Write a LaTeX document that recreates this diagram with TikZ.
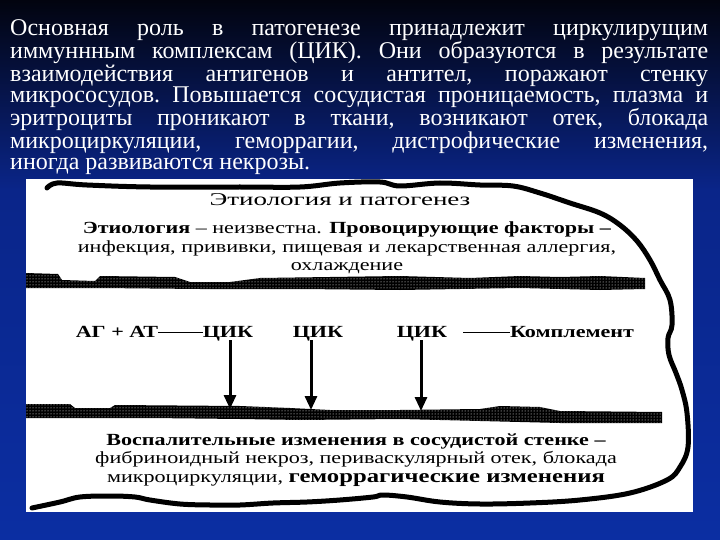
\documentclass[tikz,border=0pt]{standalone}
\usepackage{fontspec}
\setmainfont{Liberation Serif}
\newfontfamily\schemefont[FakeStretch=1.3]{Liberation Serif}
\newfontfamily\headfont[FakeStretch=1.5]{Liberation Serif}
\usetikzlibrary{arrows.meta,patterns}

\definecolor{slidetop}{HTML}{02040F}
\definecolor{slidemid}{HTML}{0A2589}
\definecolor{slidebot}{HTML}{0B2EA2}

\begin{document}
\begin{tikzpicture}[x=1pt,y=-1pt]

\tikzstyle{scheme} = [inner sep=0pt, font={\schemefont\fontsize{17}{18.5}\selectfont}]
\tikzstyle{schemebf} = [inner sep=0pt, font={\schemefont\bfseries\fontsize{17}{18.5}\selectfont}, text height=12pt, text depth=3pt, anchor=base]
\tikzstyle{wavy} = [line width=5pt, line cap=round, line join=round]
\tikzstyle{cikarrow} = [->, >={Triangle[width=12pt,length=14pt]}, line width=3pt]
\tikzstyle{band} = [fill=black, postaction={pattern=dots, pattern color=white}]

\useasboundingbox (0,0) rectangle (720,540);

% slide background
\shade[top color=slidetop, bottom color=slidemid] (0,0) rectangle (720,190);
\shade[top color=slidemid, bottom color=slidebot] (0,190) rectangle (720,540);

\node[anchor=north west, inner sep=0pt, text width=698pt, align=justify, text=white,
  font={\fontsize{24}{21.3}\selectfont\frenchspacing}] (intro) at (10,19)
  {Основная роль в патогенезе принадлежит циркулирущим\linebreak
   иммуннным комплексам (ЦИК). Они образуются в результате\linebreak
   взаимодействия антигенов и антител, поражают стенку\linebreak
   микрососудов. Повышается сосудистая проницаемость, плазма и\linebreak
   эритроциты проникают в ткани, возникают отек, блокада\linebreak
   микроциркуляции, геморрагии, дистрофические изменения,\linebreak
   иногда развиваются некрозы.};

% the scheme
\fill[white] (26,179) rectangle (693,512);

\draw[wavy] plot[smooth, tension=0.6] coordinates {(47,188) (57,183) (87,185) (150,187)
  (240,187) (300,187) (340,183) (380,182) (400,186) (440,183) (480,185) (513,186)
  (540,193) (570,203) (600,213) (620,225) (637,241) (650,260) (660,280) (670,300)
  (672,325) (668,338) (669,355) (676,373) (682,390) (687,413) (688,447) (680,467)
  (667,480) (630,493) (580,500) (530,503) (480,504) (440,502) (407,497) (383,495)
  (373,497) (340,500) (307,502) (273,503) (240,505) (210,505) (180,504) (150,500)
  (135,497) (110,496) (80,497) (60,502) (32,508)};

\path[band] (26,273) -- (58,274) -- (62,280) -- (95,281) -- (100,276) -- (175,277)
  -- (190,282) -- (230,282) -- (260,278) -- (330,277) -- (400,276) -- (470,278)
  -- (520,276) -- (560,277) -- (600,276) -- (645,278) -- (645,289) -- (600,290)
  -- (520,288) -- (400,290) -- (300,289) -- (200,289) -- (100,288) -- (26,288) -- cycle;
\path[band] (26,404) -- (70,404) -- (75,408) -- (110,408) -- (115,405) -- (240,406)
  -- (290,408) -- (330,410) -- (400,410) -- (480,409) -- (500,406) -- (540,407)
  -- (560,411) -- (662,412) -- (662,423) -- (560,423) -- (480,421) -- (400,419)
  -- (300,420) -- (240,419) -- (150,418) -- (26,418) -- cycle;

\node[inner sep=0pt, font={\headfont\fontsize{18}{20}\selectfont}] (title) at (340,200) {Этиология и патогенез};
\node[scheme, align=center] (etiology) at (347,248)
  {\textbf{Этиология} – неизвестна. \textbf{Провоцирующие факторы –}\\
   инфекция, прививки, пищевая и лекарственная аллергия,\\
   охлаждение};

\node[schemebf] (agat) at (117,337) {АГ + АТ};
\node[schemebf] (cik1) at (228,337) {ЦИК};
\node[schemebf] (cik2) at (318,337) {ЦИК};
\node[schemebf] (cik3) at (422,337) {ЦИК};
\node[schemebf] (complement) at (572,337) {Комплемент};

\coordinate (tip1) at (230,409);
\coordinate (tip2) at (311,410);
\coordinate (tip3) at (421,411);

\draw[line width=1.2pt] (agat) -- (cik1);
\draw[line width=1.2pt, shorten <=16pt] (cik3) -- (complement);

\draw[cikarrow] (cik1.south -| tip1) -- (tip1);
\draw[cikarrow] (cik2.south -| tip2) -- (tip2);
\draw[cikarrow] (cik3.south -| tip3) -- (tip3);

\node[scheme, align=center] (wall) at (356,460)
  {\textbf{Воспалительные изменения в сосудистой стенке –}\\
   фибриноидный некроз, периваскулярный отек, блокада\\
   микроциркуляции, {\fontsize{19}{18}\selectfont\bfseries геморрагические изменения}};

\end{tikzpicture}
\end{document}
